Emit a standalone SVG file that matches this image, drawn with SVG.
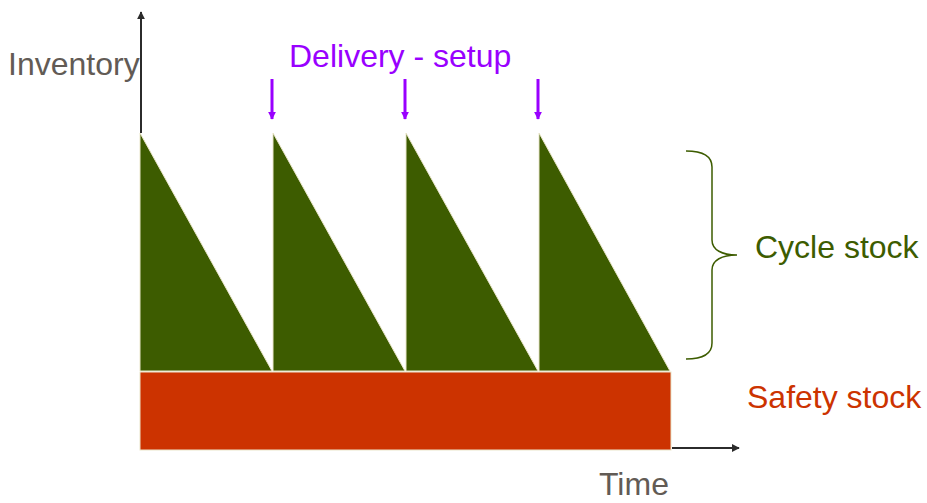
<svg xmlns="http://www.w3.org/2000/svg" width="927" height="503" viewBox="0 0 927 503">
<defs>
<style>
.t{font-family:"Liberation Sans",Arial,sans-serif;font-size:32px}
.tri{fill:#3D5C00;stroke:#EAE6CA;stroke-width:1}
.ax{stroke:#2B2B2B;stroke-width:2;fill:none}
.dl{stroke:#9900FF;stroke-width:3;fill:none}
</style>
<marker id="ah" viewBox="0 0 10 10" refX="9" refY="5" markerWidth="8" markerHeight="8" markerUnits="userSpaceOnUse" orient="auto"><path d="M0,0 L10,5 L0,10 z" fill="#2B2B2B"/></marker>
<marker id="ap" viewBox="0 0 10 10" refX="9" refY="5" markerWidth="8" markerHeight="8" markerUnits="userSpaceOnUse" orient="auto"><path d="M0,0 L10,5 L0,10 z" fill="#9900FF"/></marker>
</defs>
<rect width="927" height="503" fill="#FFFFFF"/>
<g id="safety-stock">
<rect x="140" y="372" width="531" height="78" fill="#CC3300" stroke="#EAE6CA" stroke-width="1"/>
</g>
<g id="cycle-1"><polygon class="tri" points="140,133 140,371 272,371"/></g>
<g id="cycle-2"><polygon class="tri" points="273,133 273,371 405,371"/></g>
<g id="cycle-3"><polygon class="tri" points="406,133 406,371 538,371"/></g>
<g id="cycle-4"><polygon class="tri" points="539,133 539,371 670,371"/></g>
<g id="connectors">
<line class="ax" x1="141" y1="133" x2="141" y2="12" marker-end="url(#ah)"/>
<line class="ax" x1="672" y1="448" x2="739" y2="448" marker-end="url(#ah)"/>
<line class="dl" x1="272" y1="79" x2="272" y2="119" marker-end="url(#ap)"/>
<line class="dl" x1="405" y1="79" x2="405" y2="119" marker-end="url(#ap)"/>
<line class="dl" x1="538" y1="79" x2="538" y2="119" marker-end="url(#ap)"/>
<path d="M686,151 C700,151 712,155 712,167 L712,240 C712,250 722,255 737,255 C722,255 712,260 712,270 L712,343 C712,355 700,359 686,359" fill="none" stroke="#3D5C00" stroke-width="1.5"/>
</g>
<g id="labels">
<text class="t" x="8" y="75" fill="#625B55">Inventory</text>
<text class="t" x="289" y="67" fill="#9900FF">Delivery - setup</text>
<text class="t" x="755" y="258" fill="#3D5C00">Cycle stock</text>
<text class="t" x="747" y="408" fill="#CC3300">Safety stock</text>
<text class="t" x="599" y="495" fill="#625B55">Time</text>
</g>
</svg>
